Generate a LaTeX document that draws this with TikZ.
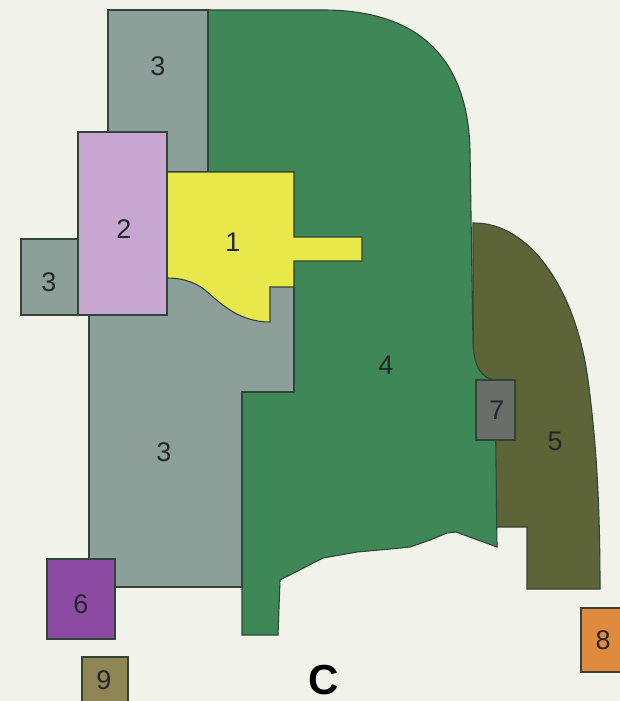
\documentclass[tikz,border=0pt]{standalone}
\usepackage{fontspec}
\setmainfont{Liberation Sans}
\usetikzlibrary{positioning}

\definecolor{paper}{HTML}{F1F2EA}
\definecolor{edge}{HTML}{30443A}
\definecolor{zonegray}{HTML}{8C9F98}
\definecolor{zonegreen}{HTML}{3E8757}
\definecolor{zoneyellow}{HTML}{E8E84A}
\definecolor{zonelilac}{HTML}{C7A6D2}
\definecolor{zoneolive}{HTML}{5D6437}
\definecolor{zoneslate}{HTML}{6B6D68}
\definecolor{zonepurple}{HTML}{8C4AA3}
\definecolor{zonekhaki}{HTML}{8F8653}
\definecolor{zoneorange}{HTML}{DF8A3C}
\definecolor{ink}{HTML}{26262F}

\begin{document}
\begin{tikzpicture}[x=1pt,y=-1pt,
			zone/.style={draw=edge,line width=1.1pt,line join=miter},
			lbl/.style={text=ink,inner sep=0pt,font=\fontsize{27}{30}\selectfont}]

			\clip (0,0) rectangle (620,701);

			\fill[paper] (0,0) rectangle (620,701);

			\filldraw[zone,fill=zoneolive] (473,223) .. controls (530,222) and (576,290) .. (588,380)
				.. controls (596,440) and (600,500) .. (600,589) -- (527,589) -- (527,527) -- (473,527) -- cycle;

			\filldraw[zone,fill=zonegreen] (208,10) -- (323,10) .. controls (430,10) and (468,70) .. (470,150)
				-- (473,343) .. controls (474,368) and (482,378) .. (495,380) -- (497,547) -- (456,532)
				-- (447,533) -- (430,540) -- (410,547) -- (390,549) -- (357,552) -- (323,558) -- (280,580)
				-- (278,635) -- (242,635) -- (242,392) -- (294,392) -- (294,172) -- (208,172) -- cycle;

			\filldraw[zone,fill=zonegray] (108,10) rectangle (208,172);

			\filldraw[zone,fill=zonegray] (89,315) -- (89,587) -- (242,587) -- (242,392) -- (294,392)
				-- (294,270) -- (167,270) -- (167,315) -- cycle;

			\filldraw[zone,fill=zoneyellow] (167,172) -- (294,172) -- (294,237) -- (362,237) -- (362,261)
				-- (294,261) -- (294,287) -- (270,287) -- (270,322) .. controls (240,322) and (222,305) .. (205,290)
				.. controls (192,280) and (178,278) .. (167,278) -- cycle;

			\filldraw[zone,fill=zonegray] (21,239) rectangle (79,315);

			\filldraw[zone,fill=zonelilac] (78,132) rectangle (167,315);

			\filldraw[zone,fill=zoneslate] (476,380) rectangle (515,440);

			\filldraw[zone,fill=zonepurple] (47,559) rectangle (115,639);

			\filldraw[zone,fill=zonekhaki] (82,657) rectangle (128,712);

			\filldraw[zone,fill=zoneorange] (581,608) rectangle (630,672);

			\node[lbl] (n3a) at (158,66) {3};
			\node[lbl] (n2) at (124,229) {2};
			\node[lbl] (n3b) at (49,282) {3};
			\node[lbl] (n1) at (233,242) {1};
			\node[lbl] (n4) at (386,365) {4};
			\node[lbl] (n7) at (497,410) {7};
			\node[lbl] (n5) at (555,441) {5};
			\node[lbl] (n3c) at (164,452) {3};
			\node[lbl] (n6) at (81,604) {6};
			\node[lbl] (n9) at (104,680) {9};
			\node[lbl] (n8) at (603,640) {8};

			\node[text=black,inner sep=0pt,anchor=base,font=\fontsize{42}{46}\selectfont\bfseries] (plan) at (324,694) {C};

		\end{tikzpicture}
\end{document}
